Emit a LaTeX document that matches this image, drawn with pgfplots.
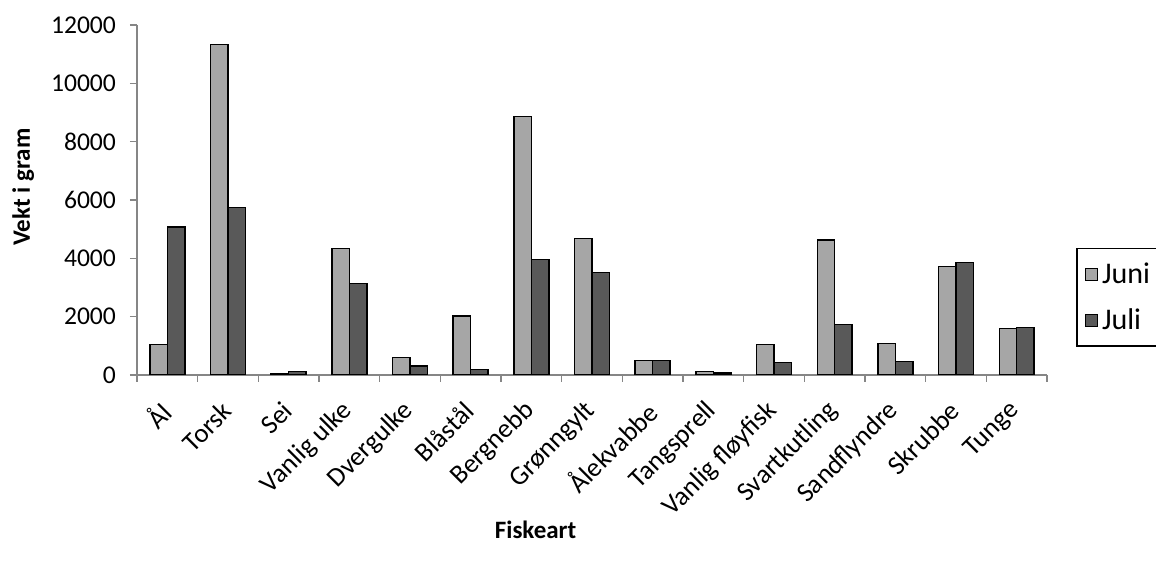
\documentclass[border=0pt]{standalone}
\usepackage{pgfplots}
\usepackage{pgfplotstable}
\pgfplotsset{compat=1.18}
\usepackage{fontspec}
\setmainfont{Carlito}

\definecolor{juni}{HTML}{A6A6A6}
\definecolor{juli}{HTML}{595959}
\definecolor{axgray}{HTML}{868686}

% Vekt i gram per fiskeart, juni og juli
\pgfplotstableread{
idx juni juli
0   1050  5070
1   11330 5750
2   30    110
3   4340  3130
4   590   310
5   2020  190
6   8860  3950
7   4690  3510
8   500   500
9   110   70
10  1050  430
11  4630  1730
12  1090  460
13  3730  3850
14  1590  1620
}\fisk

\newcommand{\tickfont}{\fontsize{12.8}{15}\selectfont}
\newcommand{\xtickfont}{\fontsize{13.4}{16}\selectfont}
\newcommand{\lblfont}{\fontsize{12.5}{15}\selectfont}
\newcommand{\legfont}{\fontsize{15}{18}\selectfont}

\begin{document}
\begin{tikzpicture}
\begin{axis}[
  scale only axis, width=455pt, height=175pt,
  ybar=0pt, bar width=0.288,
  xmin=-0.5, xmax=14.5, ymin=0, ymax=12000,
  ytick={0,2000,...,12000},
  scaled y ticks=false,
  /pgf/number format/.cd, 1000 sep={}, assume math mode=true, /pgfplots/.cd,
  axis x line*=bottom, axis y line*=left,
  axis line style={draw=axgray, line width=0.7pt},
  tick align=outside,
  xtick={0,...,14},
  xticklabels={Ål, Torsk, Sei, Vanlig ulke, Dvergulke, Blåstål, Bergnebb, Grønngylt, Ålekvabbe, Tangsprell, Vanlig fløyfisk, Svartkutling, Sandflyndre, Skrubbe, Tunge},
  major x tick style={draw=none},
  minor xtick={-0.5,0.5,...,14.5},
  minor x tick style={draw=axgray, line width=0.7pt},
  minor tick length=3.5pt, major tick length=3.5pt,
  ytick style={draw=axgray, line width=0.7pt},
  tick label style={font=\tickfont, text=black},
  xticklabel style={font=\xtickfont, xshift=0.3pt, yshift=-11.5pt, rotate=45, anchor=east, inner sep=1pt},
  yticklabel style={xshift=-3.5pt},
  xlabel={Fiskeart},
  ylabel={Vekt i gram},
  label style={font=\lblfont\bfseries},
  xlabel style={at={(axis description cs:0.438,-0.443)}, anchor=center},
  ylabel style={at={(axis description cs:-0.125,0.537)}, anchor=center},
  legend style={at={(axis description cs:1.032,0.363)}, anchor=north west,
    draw=black, line width=0.7pt, font=\legfont, row sep=7pt,
    inner xsep=4pt, inner ysep=5pt,
    nodes={inner xsep=2pt}},
  legend cell align=left,
  sqlegend/.style={legend image code/.code={
    \draw[##1, draw=black, line width=0.6pt] (2pt,-3pt) rectangle (8pt,3pt);}},
]
\addplot[fill=juni, draw=black, line width=0.7pt, sqlegend] table[x=idx, y=juni] {\fisk};
\addplot[fill=juli, draw=black, line width=0.7pt, sqlegend] table[x=idx, y=juli] {\fisk};
\legend{Juni, Juli}
\end{axis}
\pgfresetboundingbox
\useasboundingbox (-68.5pt,-93pt) rectangle (509.5pt,187.5pt);
\end{tikzpicture}
\end{document}
